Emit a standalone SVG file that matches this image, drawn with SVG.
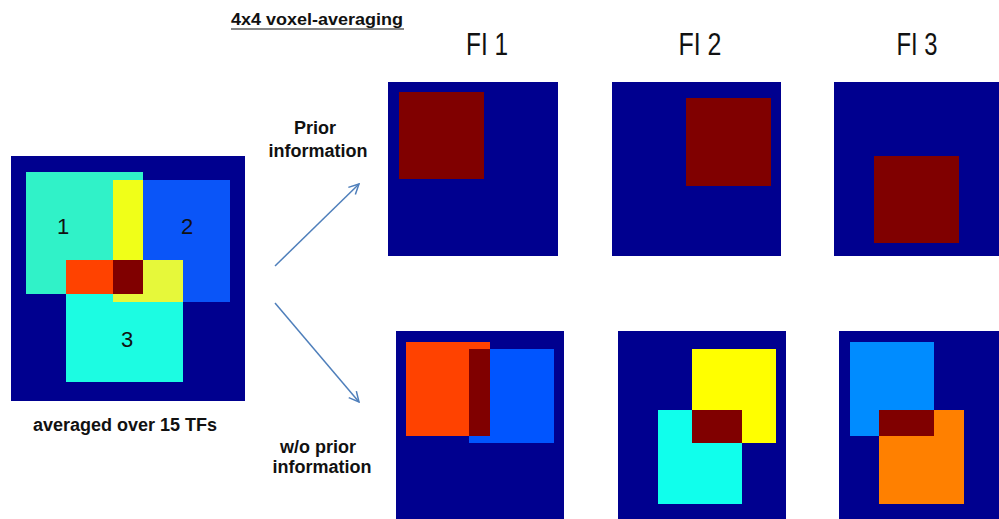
<svg xmlns="http://www.w3.org/2000/svg" width="999" height="519" viewBox="0 0 999 519">
  <style>
    .bg { fill: #00008f; }
    .dr { fill: #800000; }
    .lbl { font-family: "Liberation Sans", Arial, sans-serif; font-weight: bold; font-size: 18px; fill: #111; text-anchor: middle; }
    .num { font-family: "Liberation Sans", Arial, sans-serif; font-size: 22px; fill: #111; text-anchor: middle; }
    .hdr { font-family: "Liberation Sans Narrow", "Liberation Sans", Arial, sans-serif; font-size: 31px; fill: #111; text-anchor: middle; }
    .conn { stroke: #4f7fbb; stroke-width: 1.5; fill: none; marker-end: url(#arrow); }
  </style>
  <defs>
    <marker id="arrow" viewBox="0 0 12 12" refX="11" refY="6" markerWidth="12" markerHeight="12" markerUnits="userSpaceOnUse" orient="auto">
      <path d="M1,1 L11,6 L1,11" fill="none" stroke="#4f7fbb" stroke-width="1.5"/>
    </marker>
  </defs>
  <rect width="999" height="519" fill="#ffffff"/>

  <!-- titles -->
  <g id="title">
    <text class="lbl" x="317" y="25" textLength="172" lengthAdjust="spacingAndGlyphs" style="font-size:17px">4x4  voxel-averaging</text>
    <line x1="231" y1="29" x2="404" y2="29" stroke="#111" stroke-width="1.2"/>
  </g>
  <g id="headers">
    <text class="hdr" x="487" y="55" textLength="42" lengthAdjust="spacingAndGlyphs">FI 1</text>
    <text class="hdr" x="700" y="55" textLength="43" lengthAdjust="spacingAndGlyphs">FI 2</text>
    <text class="hdr" x="917" y="55" textLength="41" lengthAdjust="spacingAndGlyphs">FI 3</text>
  </g>

  <!-- averaged source map -->
  <g id="averaged">
    <rect class="bg" x="11" y="156" width="234" height="245"/>
    <rect x="26" y="172" width="117" height="122" fill="#30f2c8"/>
    <rect x="143" y="180" width="87" height="122" fill="#0a55f8"/>
    <rect x="113" y="180" width="30" height="80" fill="#f0ff18"/>
    <rect x="66" y="294" width="117" height="88" fill="#1cfce2"/>
    <rect x="143" y="260" width="40" height="42" fill="#e6f83a"/>
    <rect x="113" y="294" width="30" height="8" fill="#e6f83a"/>
    <rect x="66" y="260" width="47" height="34" fill="#ff4200"/>
    <rect class="dr" x="113" y="260" width="30" height="34"/>
    <text class="num" x="63" y="234">1</text>
    <text class="num" x="187" y="234">2</text>
    <text class="num" x="127" y="347">3</text>
    <text class="lbl" x="125" y="431">averaged over 15 TFs</text>
  </g>

  <!-- connectors -->
  <g id="connectors">
    <line class="conn" x1="275" y1="266" x2="359" y2="184"/>
    <line class="conn" x1="275" y1="303" x2="359" y2="402"/>
  </g>

  <g id="label-prior">
    <text class="lbl" x="315" y="134">Prior</text>
    <text class="lbl" x="318" y="157">information</text>
  </g>
  <g id="label-noprior">
    <text class="lbl" x="318" y="453">w/o prior</text>
    <text class="lbl" x="322" y="473">information</text>
  </g>

  <!-- with prior information -->
  <g id="prior-fi1">
    <rect class="bg" x="388" y="82" width="170" height="174"/>
    <rect class="dr" x="399" y="92" width="85" height="87"/>
  </g>
  <g id="prior-fi2">
    <rect class="bg" x="612" y="82" width="169" height="174"/>
    <rect class="dr" x="686" y="98" width="85" height="88"/>
  </g>
  <g id="prior-fi3">
    <rect class="bg" x="834" y="82" width="170" height="174"/>
    <rect class="dr" x="874" y="156" width="85" height="87"/>
  </g>

  <!-- without prior information -->
  <g id="noprior-fi1">
    <rect class="bg" x="396" y="331" width="168" height="188"/>
    <rect x="406" y="342" width="84" height="94" fill="#ff4200"/>
    <rect x="469" y="349" width="85" height="94" fill="#0055ff"/>
    <rect class="dr" x="469" y="349" width="21" height="87"/>
  </g>
  <g id="noprior-fi2">
    <rect class="bg" x="618" y="331" width="168" height="188"/>
    <rect x="692" y="349" width="84" height="94" fill="#ffff00"/>
    <rect x="658" y="410" width="84" height="94" fill="#10ffec"/>
    <rect class="dr" x="692" y="410" width="50" height="33"/>
  </g>
  <g id="noprior-fi3">
    <rect class="bg" x="839" y="331" width="170" height="188"/>
    <rect x="850" y="342" width="84" height="94" fill="#008cff"/>
    <rect x="879" y="410" width="85" height="94" fill="#ff8000"/>
    <rect class="dr" x="879" y="410" width="55" height="26"/>
  </g>
</svg>
